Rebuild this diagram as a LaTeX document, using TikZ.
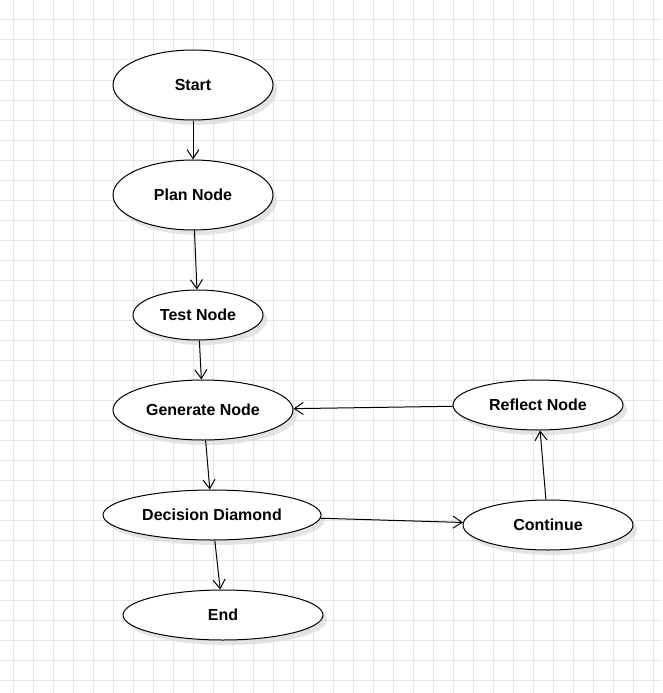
\documentclass[tikz,border=0pt]{standalone}
\usepackage{fontspec}
\setmainfont{Liberation Sans}
\usetikzlibrary{shapes.geometric,arrows.meta,shadows}
\definecolor{gridc}{HTML}{E6E6E6}
\tikzset{
  gridline/.style={draw=gridc, line width=1pt},
  flownode/.style={ellipse, draw=black, line width=1pt, fill=white, inner sep=0pt,
    font=\fontsize{16}{19}\selectfont\bfseries,
    drop shadow={shadow xshift=4pt, shadow yshift=-5pt, fill=black!15, opacity=0.7}},
  flowarrow/.style={draw=black, line width=1pt, -{Straight Barb[length=9pt,width=12pt,line width=1pt]}}
}
\begin{document}
\begin{tikzpicture}[x=1pt,y=-1pt]
\useasboundingbox (0,0) rectangle (662,693);
\fill[white] (0,0) rectangle (662,693);
\foreach \x in {13,33,...,653} \draw[gridline] (\x,0) -- (\x,693);
\foreach \y in {0,20,...,680} \draw[gridline] (0,\y) -- (662,\y);

\node[flownode, minimum width=160pt, minimum height=70pt] (start) at (193,85) {Start};
\node[flownode, minimum width=160pt, minimum height=70pt] (plan) at (193,195) {Plan Node};
\node[flownode, minimum width=130pt, minimum height=50pt] (test) at (198,315) {Test Node};
\node[flownode, minimum width=180pt, minimum height=60pt] (gen) at (203,410) {Generate Node};
\node[flownode, minimum width=170pt, minimum height=50pt] (refl) at (538,405) {Reflect Node};
\node[flownode, minimum width=218pt, minimum height=50pt] (dec) at (212,515) {Decision Diamond};
\node[flownode, minimum width=170pt, minimum height=50pt] (cont) at (548,525) {Continue};
\node[flownode, minimum width=200pt, minimum height=50pt] (end) at (223,615) {End};

\draw[flowarrow] (start) -- (plan);
\draw[flowarrow] (plan) -- (test);
\draw[flowarrow] (test) -- (gen);
\draw[flowarrow] (gen) -- (dec);
\draw[flowarrow] (dec) -- (end);
\draw[flowarrow] (dec) -- (cont);
\draw[flowarrow] (cont) -- (refl);
\draw[flowarrow] (refl) -- (gen);
\end{tikzpicture}
\end{document}
